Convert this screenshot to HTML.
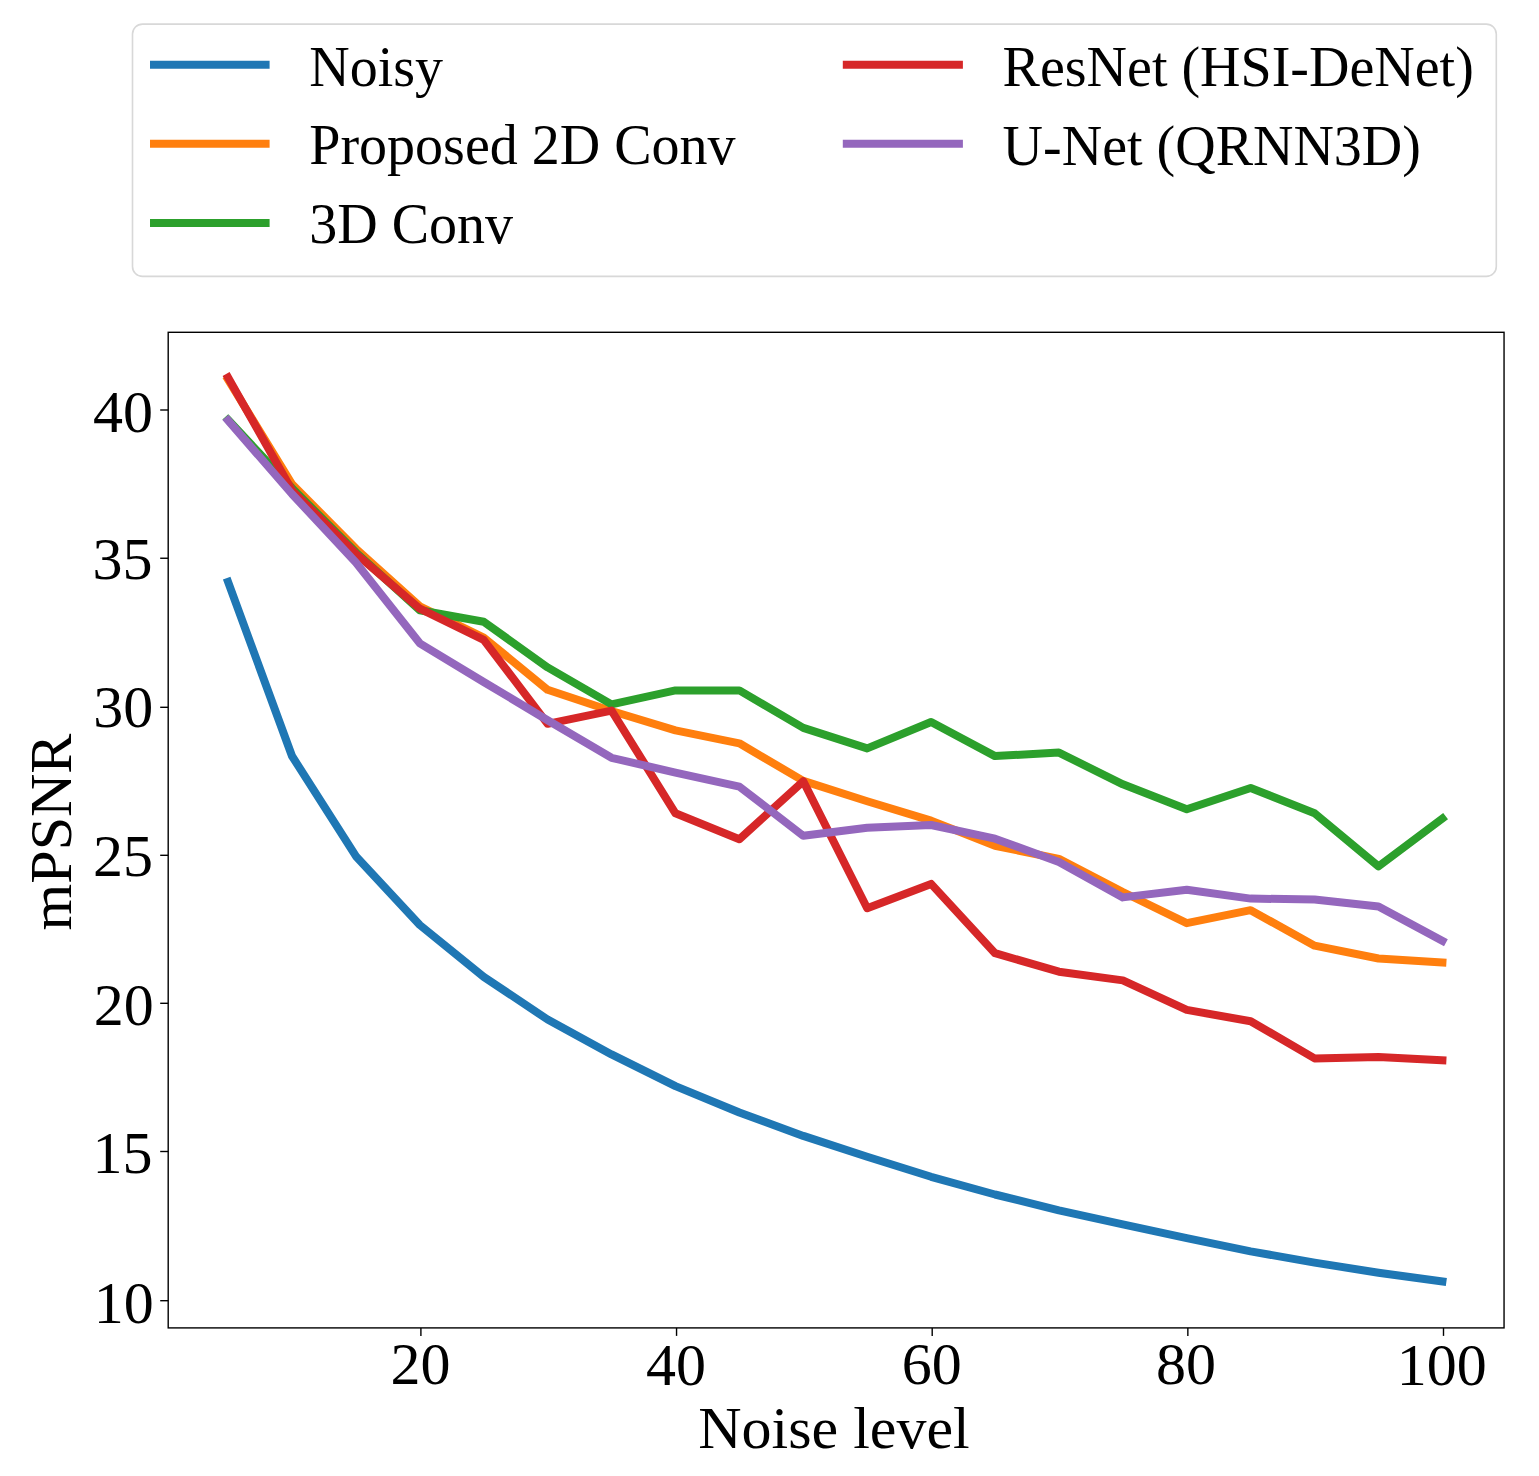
<!DOCTYPE html>
<html lang="en">
<head>
<meta charset="utf-8">
<title>mPSNR vs. Noise level</title>
<style>
html,body{margin:0;padding:0;background:#ffffff;}
body{width:1539px;height:1476px;overflow:hidden;}
svg{display:block;}
text{font-family:"Liberation Serif", "Times New Roman", Times, serif;fill:#000;}
.tick{font-size:60px;}
.lg{font-size:56px;}
.ln{fill:none;stroke-width:8;stroke-linejoin:round;stroke-linecap:square;stroke-miterlimit:10;}
</style>
</head>
<body>
<svg width="1539" height="1476" viewBox="0 0 1539 1476">
<rect x="0" y="0" width="1539" height="1476" fill="#ffffff"/>
<g id="axes">
<clipPath id="clip"><rect x="168.2" y="332.3" width="1335.85" height="995.6"/></clipPath>
<g clip-path="url(#clip)">
<polyline class="ln" stroke="#1f77b4" points="228.06,581.9 291.98,756 355.89,856.2 419.8,925 483.71,976.8 547.62,1019.5 611.54,1054.4 675.45,1086.1 739.36,1112.5 803.28,1135.9 867.19,1156.8 931.1,1176.8 995.01,1194.5 1058.92,1210.3 1122.84,1224.3 1186.75,1238.2 1250.66,1251.4 1314.58,1262.6 1378.49,1272.7 1442.4,1281.5"/>
<polyline class="ln" stroke="#ff7f0e" points="228.06,379.5 291.98,484 355.89,548.6 419.8,606.3 483.71,637.5 547.62,689.8 611.54,711 675.45,730.4 739.36,743.3 803.28,780.9 867.19,801.3 931.1,820.6 995.01,845.8 1058.92,858.9 1122.84,892 1186.75,923.2 1250.66,910.2 1314.58,945.7 1378.49,958.5 1442.4,962.5"/>
<polyline class="ln" stroke="#2ca02c" points="228.06,419.8 291.98,488 355.89,552.4 419.8,610.2 483.71,621.7 547.62,667.4 611.54,704.4 675.45,690.4 739.36,690.4 803.28,727.9 867.19,748.4 931.1,722 995.01,756.1 1058.92,752.6 1122.84,784.3 1186.75,809.3 1250.66,788 1314.58,813.2 1378.49,866.4 1442.4,818.5"/>
<polyline class="ln" stroke="#d62728" points="228.06,377.4 291.98,490.3 355.89,553.7 419.8,608.7 483.71,639.8 547.62,723.8 611.54,710.6 675.45,813.3 739.36,839.2 803.28,781.3 867.19,908.2 931.1,883.9 995.01,953.2 1058.92,971.7 1122.84,980.4 1186.75,1009.9 1250.66,1021.2 1314.58,1058.4 1378.49,1057 1442.4,1060.2"/>
<polyline class="ln" stroke="#9467bd" points="228.06,420.4 291.98,494 355.89,562.5 419.8,643.3 483.71,682 547.62,720.2 611.54,757.8 675.45,772.6 739.36,786.6 803.28,835.8 867.19,827.7 931.1,825 995.01,838.7 1058.92,862 1122.84,897.4 1186.75,889.8 1250.66,898.6 1314.58,899.5 1378.49,906.4 1442.4,940.9"/>
</g>
<g stroke="#000" stroke-width="1.4" fill="none">
<line x1="420.9" y1="1327.9" x2="420.9" y2="1335.9"/>
<line x1="676.55" y1="1327.9" x2="676.55" y2="1335.9"/>
<line x1="932.2" y1="1327.9" x2="932.2" y2="1335.9"/>
<line x1="1187.85" y1="1327.9" x2="1187.85" y2="1335.9"/>
<line x1="1443.5" y1="1327.9" x2="1443.5" y2="1335.9"/>
<line x1="160.2" y1="410" x2="168.2" y2="410"/>
<line x1="160.2" y1="558.25" x2="168.2" y2="558.25"/>
<line x1="160.2" y1="707.3" x2="168.2" y2="707.3"/>
<line x1="160.2" y1="855.3" x2="168.2" y2="855.3"/>
<line x1="160.2" y1="1003.3" x2="168.2" y2="1003.3"/>
<line x1="160.2" y1="1151.5" x2="168.2" y2="1151.5"/>
<line x1="160.2" y1="1300.7" x2="168.2" y2="1300.7"/>
</g>
<rect x="168.2" y="332.3" width="1335.85" height="995.6" fill="none" stroke="#000" stroke-width="1.4"/>
<text class="tick" x="420.5" y="1384" text-anchor="middle">20</text>
<text class="tick" x="676" y="1385" text-anchor="middle">40</text>
<text class="tick" x="931.65" y="1384" text-anchor="middle">60</text>
<text class="tick" x="1185.9" y="1384" text-anchor="middle">80</text>
<text class="tick" x="1441.8" y="1385" text-anchor="middle">100</text>
<text class="tick" x="153" y="432" text-anchor="end">40</text>
<text class="tick" x="152.5" y="579" text-anchor="end">35</text>
<text class="tick" x="153.3" y="727" text-anchor="end">30</text>
<text class="tick" x="153" y="876" text-anchor="end">25</text>
<text class="tick" x="153.8" y="1025" text-anchor="end">20</text>
<text class="tick" x="152.6" y="1173" text-anchor="end">15</text>
<text class="tick" x="153.8" y="1323" text-anchor="end">10</text>
<text x="834" y="1448.2" text-anchor="middle" style="font-size:60px">Noise level</text>
<text transform="translate(71.3 832) rotate(-90)" text-anchor="middle" style="font-size:60px">mPSNR</text>
</g>
<g id="legend">
<rect x="132.5" y="24.1" width="1363.8" height="252.3" rx="10" ry="10" fill="#ffffff" stroke="#d8d8d8" stroke-width="1.6"/>
<line class="ln" stroke="#1f77b4" x1="154" y1="64.75" x2="265.6" y2="64.75"/>
<text class="lg" x="309.3" y="86">Noisy</text>
<line class="ln" stroke="#ff7f0e" x1="154" y1="143.85" x2="265.6" y2="143.85"/>
<text class="lg" x="309.3" y="164">Proposed 2D Conv</text>
<line class="ln" stroke="#2ca02c" x1="154" y1="222.95" x2="265.6" y2="222.95"/>
<text class="lg" x="309.3" y="243">3D Conv</text>
<line class="ln" stroke="#d62728" x1="846.8" y1="64.75" x2="958.9" y2="64.75"/>
<text class="lg" x="1002.6" y="86">ResNet (HSI-DeNet)</text>
<line class="ln" stroke="#9467bd" x1="846.8" y1="143.85" x2="958.9" y2="143.85"/>
<text class="lg" x="1002.6" y="165">U-Net (QRNN3D)</text>
</g>
</svg>
</body>
</html>
